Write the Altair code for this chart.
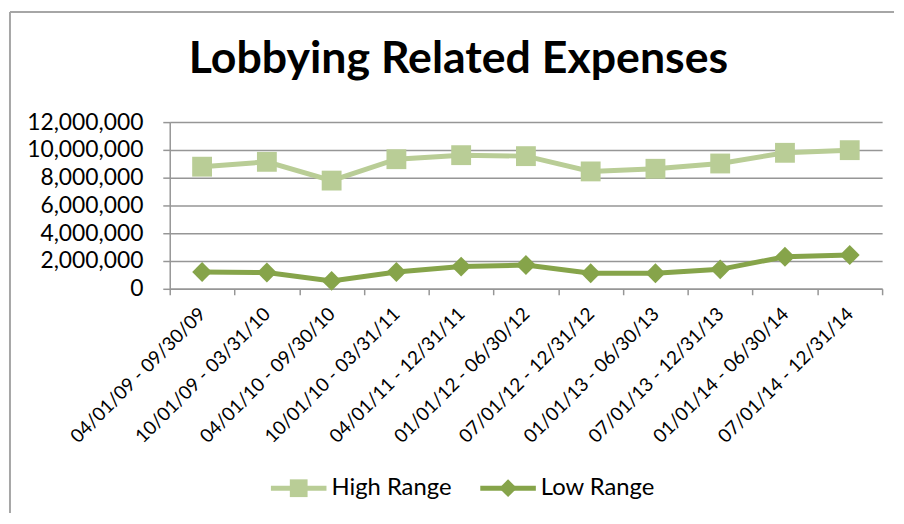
import altair as alt
import pandas as pd

periods = [
    "04/01/09 - 09/30/09", "10/01/09 - 03/31/10", "04/01/10 - 09/30/10",
    "10/01/10 - 03/31/11", "04/01/11 - 12/31/11", "01/01/12 - 06/30/12",
    "07/01/12 - 12/31/12", "01/01/13 - 06/30/13", "07/01/13 - 12/31/13",
    "01/01/14 - 06/30/14", "07/01/14 - 12/31/14",
]
high_range = [8790000, 9140000, 7790000, 9330000, 9620000, 9550000,
              8450000, 8640000, 9020000, 9790000, 9980000]
low_range = [1210000, 1170000, 570000, 1210000, 1600000, 1710000,
             1120000, 1120000, 1400000, 2310000, 2430000]
series_names = ["High Range", "Low Range"]
y_ticks = [0, 2000000, 4000000, 6000000, 8000000, 10000000, 12000000]

HIGH_COLOR = "#b9cd96"
LOW_COLOR = "#86a44a"
GRID = "#969696"
FONT = "Lato"

df = pd.DataFrame({
    "period": periods * 2,
    "series": [series_names[0]] * len(periods) + [series_names[1]] * len(periods),
    "value": high_range + low_range,
    "order": list(range(len(periods))) * 2,
})

color = alt.Color("series:N", scale=alt.Scale(domain=series_names, range=[HIGH_COLOR, LOW_COLOR]), legend=None)

x_enc = alt.X(
    "period:N", sort=periods,
    scale=alt.Scale(type="band", paddingInner=0, paddingOuter=0),
    axis=alt.Axis(title=None, labelAngle=-45, labelAlign="right", labelBaseline="middle",
                  tickBand="extent", tickSize=6, labelPadding=16, labelFont=FONT,
                  labelFontSize=19, labelColor="black", domainColor=GRID, tickColor=GRID,
                  domainWidth=1.5, tickWidth=1.5, grid=False, labelOverlap=False,
                  labelLimit=400),
)
y_enc = alt.Y(
    "value:Q", scale=alt.Scale(domain=[0, 12000000], nice=False),
    axis=alt.Axis(title=None, values=y_ticks, format=",d", labelFont=FONT, labelFontSize=23,
                  labelColor="black", tickSize=7, labelPadding=20, tickColor=GRID,
                  domainColor=GRID, domainWidth=1.5, tickWidth=1.5, gridColor=GRID, gridWidth=1.5),
)

base = alt.Chart(df)
lines = base.mark_line(strokeWidth=5).encode(x=x_enc, y=y_enc, color=color, detail="series:N", order="order:Q")
points = base.mark_point(filled=True, opacity=1, size=400).encode(
    x=x_enc, y=y_enc, color=color,
    shape=alt.Shape("series:N", scale=alt.Scale(domain=series_names, range=["square", "diamond"]), legend=None),
)

main = alt.layer(lines, points).properties(
    width=718, height=168,
    title=alt.Title("Lobbying Related Expenses", font=FONT, fontSize=45, fontWeight="bold",
                    color="black", anchor="middle", frame="group", dx=-68, offset=29),
)

leg_df = pd.DataFrame({"series": series_names})
leg_x = alt.X("series:N", sort=series_names,
              scale=alt.Scale(type="band", domain=series_names, paddingInner=0, paddingOuter=0.116),
              axis=None)
leg_color = alt.Color("series:N", scale=alt.Scale(domain=series_names, range=[HIGH_COLOR, LOW_COLOR]), legend=None)
leg_bar = alt.Chart(leg_df).mark_point(shape="M-1,-0.09H1V0.09H-1Z", size=3136, filled=True, opacity=1).encode(
    x=leg_x, color=leg_color)
leg_marker = alt.Chart(leg_df).mark_point(filled=True, opacity=1, size=320).encode(
    x=leg_x, color=leg_color,
    shape=alt.Shape("series:N", scale=alt.Scale(domain=series_names, range=["square", "diamond"]), legend=None),
)
leg_text = alt.Chart(leg_df).mark_text(align="left", baseline="middle", dx=33, font=FONT, fontSize=24,
                                       color="black").encode(x=leg_x, text="series:N")

frame_df = pd.DataFrame({"edge": [0]})
top_rule = alt.Chart(frame_df).mark_rule(color="#a6a6a6", strokeWidth=2).encode(
    x=alt.value(-161), x2=alt.value(730), y=alt.value(-470))
left_rule = alt.Chart(frame_df).mark_rule(color="#a6a6a6", strokeWidth=2).encode(
    x=alt.value(-161), y=alt.value(-470), y2=alt.value(35))

legend = alt.layer(leg_bar, leg_marker, leg_text, top_rule, left_rule).properties(width=471, height=20)

chart = alt.vconcat(main, legend, spacing=191, bounds="flush").properties(
    padding=0, background="white"
).configure_view(stroke="transparent")

chart.save("out.html", embed_options={"renderer": "svg", "actions": False})
